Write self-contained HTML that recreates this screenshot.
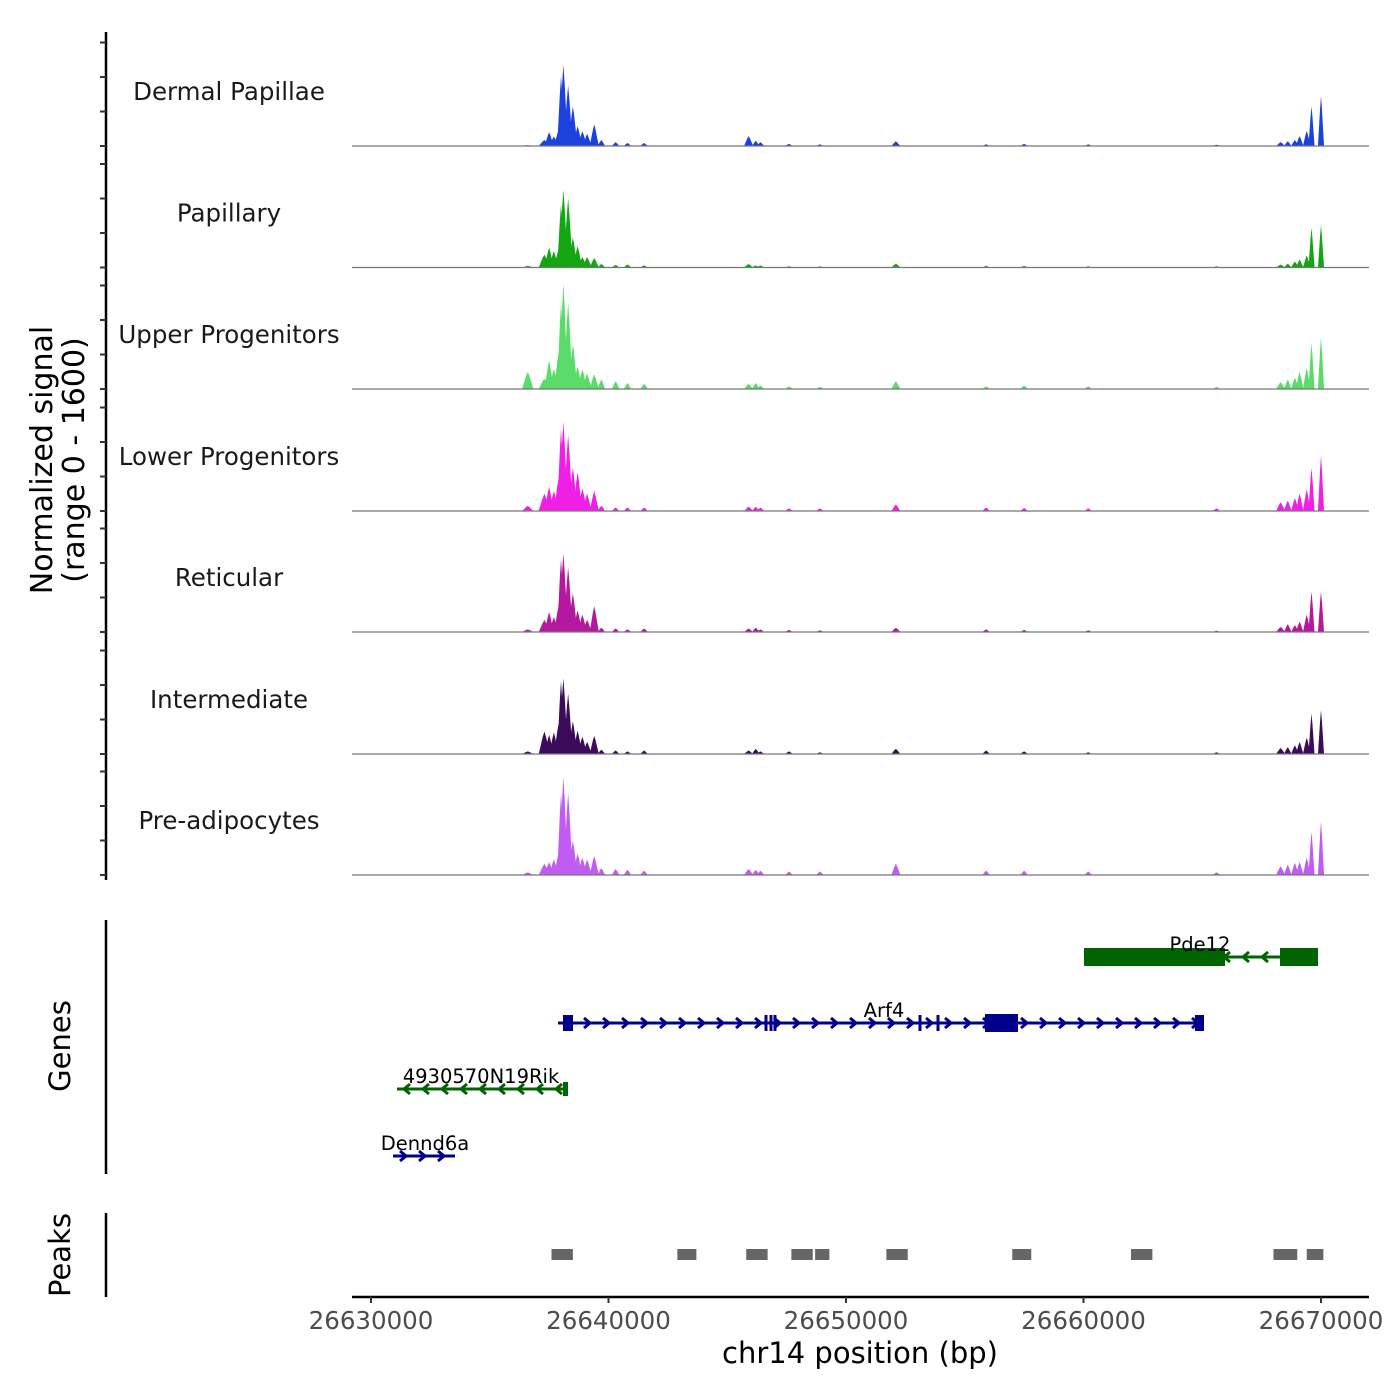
<!DOCTYPE html>
<html><head><meta charset="utf-8"><style>
html,body{margin:0;padding:0;background:#fff;}
svg{display:block;font-family:"DejaVu Sans","Liberation Sans",sans-serif;}
</style></head><body>
<svg id="chart" width="1400" height="1400" viewBox="0 0 1400 1400" xmlns="http://www.w3.org/2000/svg"></svg>
<script>
const trackNames = ["Dermal Papillae","Papillary","Upper Progenitors","Lower Progenitors","Reticular","Intermediate","Pre-adipocytes"];
const trackColors = ["#1b42dc","#12a612","#5bdc6a","#f01fe6","#b3189f","#3c0c5a","#c15cf2"];
const peakPos = [6.6,7.3,7.5,7.7,7.9,8.0,8.1,8.3,8.5,8.7,8.9,9.1,9.4,9.7,10.3,10.8,11.5,15.9,16.2,16.4,17.6,18.9,22.1,25.9,27.5,30.2,35.6,38.3,38.6,38.9,39.1,39.4,39.6,40.0];
const peakW = [0.15,0.15,0.12,0.12,0.12,0.1,0.12,0.12,0.12,0.12,0.12,0.12,0.12,0.1,0.1,0.1,0.1,0.12,0.1,0.1,0.1,0.1,0.12,0.1,0.1,0.1,0.1,0.12,0.1,0.1,0.1,0.1,0.08,0.08];
const heights = [
 [10,70,160,110,185,810,940,700,460,230,170,140,250,70,45,35,35,115,60,45,25,20,55,20,25,20,15,45,55,70,115,175,460,580],
 [20,150,230,190,210,730,900,800,350,250,120,120,110,40,30,35,25,40,25,25,15,15,45,20,20,15,15,35,45,70,90,140,460,490],
 [200,120,330,230,420,1000,1220,1000,520,260,230,180,170,110,90,70,60,60,70,40,30,25,90,30,40,30,25,80,110,130,200,240,530,600],
 [60,200,280,230,380,950,1030,880,500,450,260,200,230,60,40,40,40,50,50,40,30,30,75,40,35,30,30,100,120,150,200,250,500,640],
 [30,140,230,170,300,850,910,750,450,250,200,140,300,50,40,30,40,40,50,30,25,20,50,30,25,20,15,60,90,80,120,200,470,470],
 [30,260,220,250,350,850,880,700,380,270,200,140,210,50,40,30,40,40,60,30,30,20,60,40,30,20,20,70,80,100,140,190,470,510],
 [30,130,150,180,250,950,1140,950,400,250,200,180,220,80,70,60,50,70,60,50,40,40,130,50,50,40,30,100,120,140,150,200,500,620]
];
const xTicks = [26630000,26640000,26650000,26660000,26670000];
const peakStarts = [26637600,26642900,26645800,26647700,26648700,26651700,26657000,26662000,26668000,26669400];
const peakEnds = [26638500,26643700,26646700,26648600,26649300,26652600,26657800,26662900,26669000,26670100];

const svg = document.getElementById('chart');
const NS = 'http://www.w3.org/2000/svg';
function mk(tag, attrs, parent){ const e=document.createElementNS(NS,tag); for(const k in attrs) e.setAttribute(k,attrs[k]); (parent||svg).appendChild(e); return e; }
const X0=26630000, PX0=371, PPB=0.02375;
const xs = bp => PX0 + (bp - X0)*PPB;
const baselines=[146,267.5,389,511,632,754,875];
const TH=121.5, VS=138/1600;
const ys = (v,b) => b - Math.min(v*VS, TH-4);

let ax = mk('line',{x1:106,y1:32,x2:106,y2:880,stroke:'#000','stroke-width':2.5});


baselines.forEach((b,i)=>{
  const top = i===0 ? 32 : baselines[i-1];
  for(let t=b; t>top+2; t-=34.5){
    const tk=mk('line',{x1:100,y1:t,x2:106,y2:t,stroke:'#333','stroke-width':2});
    
    
  }
});
let yt = mk('text',{transform:'translate(52,460) rotate(-90)','text-anchor':'middle','font-size':30,fill:'#000'});
yt.textContent='Normalized signal';


let yt2 = mk('text',{transform:'translate(84,460) rotate(-90)','text-anchor':'middle','font-size':30,fill:'#000'});
yt2.textContent='(range 0 - 1600)';



trackNames.forEach((name,i)=>{
  const b=baselines[i];
  const g=mk('g',{});
  
  
  peakPos.forEach((p,j)=>{
    const c=X0+p*1000, w=peakW[j]*1600, h=heights[i][j];
    const pk=mk('path',{d:`M${xs(c-w)},${b} L${xs(c-w*0.3)},${ys(h*0.75,b)} L${xs(c)},${ys(h,b)} L${xs(c+w*0.3)},${ys(h*0.75,b)} L${xs(c+w)},${b} Z`,fill:trackColors[i]},g);
    
    
  });
  const bl=mk('line',{x1:352,y1:b,x2:1369,y2:b,stroke:'#777','stroke-width':1.2},g);
  
  
  const lab=mk('text',{x:229,y:b-46,'text-anchor':'middle','font-size':24.5,fill:'#1a1a1a'},g);
  lab.textContent=name;
  
  
});

let gax=mk('line',{x1:106,y1:920,x2:106,y2:1174,stroke:'#000','stroke-width':2.5});


let gt=mk('text',{transform:'translate(70,1046) rotate(-90)','text-anchor':'middle','font-size':29});
gt.textContent='Genes';


function gene(name,x1,x2,y,col,dir,boxes,bars,labx){
  const g=mk('g',{});
  
  
  mk('line',{x1:x1,y1:y,x2:x2,y2:y,stroke:col,'stroke-width':3},g);
  for(let x=x1+10;x<x2-4;x+=19){
    const d = dir>0 ? `M${x-3},${y-5} L${x+3},${y} L${x-3},${y+5}` : `M${x+3},${y-5} L${x-3},${y} L${x+3},${y+5}`;
    mk('path',{d:d,stroke:col,'stroke-width':3,fill:'none'},g);
  }
  boxes.forEach(bx=>mk('rect',{x:bx[0],y:y-bx[2]/2,width:bx[1]-bx[0],height:bx[2],fill:col},g));
  bars.forEach(x=>mk('line',{x1:x,y1:y-8,x2:x,y2:y+8,stroke:col,'stroke-width':3},g));
  const t=mk('text',{x:labx,y:y-6,'text-anchor':'middle','font-size':19.5,fill:'#000'},g);
  t.textContent=name;
}
gene('Pde12',1084,1318,957,'#006400',-1,[[1084,1225,18],[1280,1318,18]],[],1200);
gene('Arf4',558,1204,1023,'#00008b',1,[[563,573,16],[985,1018,18],[1195,1204,16]],[766,771,775,920,938],884);
gene('4930570N19Rik',397,568,1089,'#006400',-1,[[563,568,14]],[],481);
gene('Dennd6a',393,455,1156,'#00008b',1,[],[],425);

let pax=mk('line',{x1:106,y1:1213,x2:106,y2:1297,stroke:'#000','stroke-width':2.5});


let pt=mk('text',{transform:'translate(70,1255) rotate(-90)','text-anchor':'middle','font-size':29});
pt.textContent='Peaks';


peakStarts.forEach((s,i)=>{
  const r=mk('rect',{x:xs(s),y:1249,width:xs(peakEnds[i])-xs(s),height:11,fill:'#666'});
  
  
});

let xa=mk('line',{x1:352,y1:1297,x2:1369,y2:1297,stroke:'#000','stroke-width':2.5});


xTicks.forEach(t=>{
  const tk=mk('line',{x1:xs(t),y1:1297,x2:xs(t),y2:1303,stroke:'#333','stroke-width':2});
  
  
  const l=mk('text',{x:xs(t),y:1329,'text-anchor':'middle','font-size':24.5,fill:'#4d4d4d'});
  l.textContent=String(t);
  
  
});
let xt=mk('text',{x:860,y:1363,'text-anchor':'middle','font-size':29,fill:'#000'});
xt.textContent='chr14 position (bp)';


</script>
</body></html>
